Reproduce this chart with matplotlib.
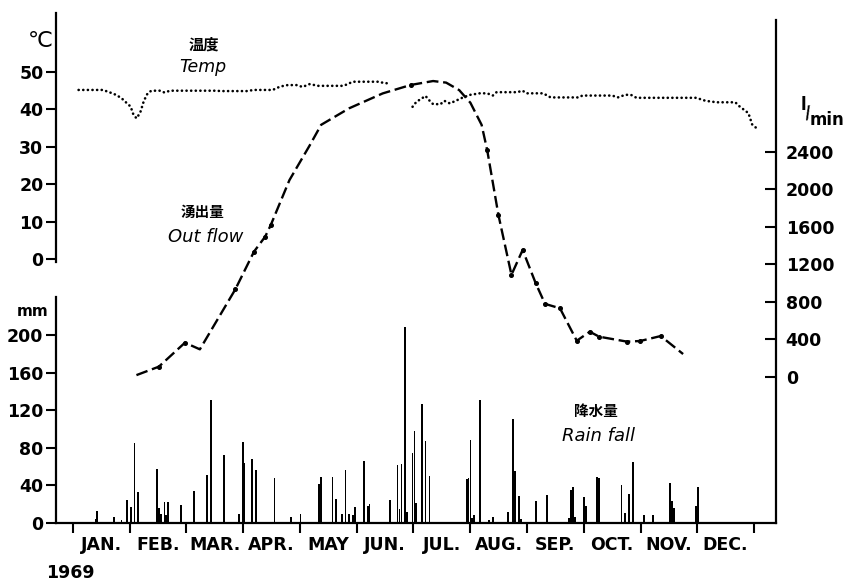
import numpy as np
import matplotlib
matplotlib.use("Agg")
import matplotlib.pyplot as plt
from matplotlib.ticker import FixedLocator, FixedFormatter, NullFormatter

plt.rcParams['font.family'] = ['DejaVu Sans', 'Noto Sans CJK JP']
plt.rcParams['font.weight'] = 'bold'

# ---------------- data ----------------
months = ["JAN.", "FEB.", "MAR.", "APR.", "MAY", "JUN.",
          "JUL.", "AUG.", "SEP.", "OCT.", "NOV.", "DEC."]

# daily rainfall (day of year, mm)
rain_days = [12, 13, 22, 26, 29, 31, 33, 35, 45, 46, 47, 49, 50, 51, 58, 65, 72, 74,
             81, 89, 91, 92, 96, 98, 108, 117, 122, 132, 133, 139, 141, 144, 146, 148,
             150, 151, 156, 158, 159, 170, 174, 175, 176, 178, 179, 182, 183, 184, 187,
             189, 191, 211, 212, 213, 214, 215, 218, 223, 225, 233, 236, 237, 239, 240,
             248, 254, 266, 267, 268, 269, 274, 275, 281, 282, 294, 296, 298, 300, 306,
             311, 320, 321, 322, 334, 335]
rain_mm = [4, 13, 6, 3, 25, 17, 85, 33, 57, 16, 10, 22, 9, 22, 19, 34, 51, 131,
           72, 10, 86, 64, 68, 56, 48, 6, 10, 42, 49, 49, 26, 10, 56, 10,
           9, 17, 66, 18, 20, 25, 62, 15, 63, 208, 12, 74, 98, 21, 127,
           87, 50, 47, 48, 88, 5, 9, 131, 3, 6, 12, 111, 55, 29, 4,
           23, 30, 5, 35, 38, 6, 28, 18, 49, 48, 40, 11, 31, 65, 8,
           9, 43, 23, 16, 18, 38]

# water temperature (deg C), two observed stretches
temp1_days = [3, 16, 20, 23, 26, 29, 31, 32, 34, 36, 38, 40, 42, 47, 49, 52, 59, 64,
              77, 79, 93, 97, 107, 111, 115, 120, 123, 127, 131, 145, 150, 164, 167, 170]
temp1_vals = [45.2, 45.2, 44.5, 43.9, 43.0, 41.6, 40.7, 39.0, 37.6, 39.1, 42.3, 44.3,
              45.0, 45.0, 44.5, 45.0, 45.0, 45.0, 45.0, 44.9, 44.9, 45.2, 45.2, 46.1,
              46.5, 46.5, 46.0, 46.8, 46.3, 46.3, 47.4, 47.4, 47.0, 47.0]
temp2_days = [182, 184, 189, 190, 193, 197, 199, 202, 206, 209, 213, 218, 222, 225,
              227, 238, 241, 243, 252, 256, 271, 273, 289, 292, 296, 299, 302, 334,
              339, 345, 355, 357, 362, 364, 367]
temp2_vals = [40.7, 42.0, 43.6, 42.9, 41.4, 41.4, 42.3, 41.6, 42.5, 43.2, 43.9, 44.3,
              44.3, 43.7, 44.6, 44.6, 45.0, 44.3, 44.3, 43.2, 43.2, 43.7, 43.7, 43.2,
              43.9, 43.9, 43.1, 43.1, 42.3, 41.9, 41.9, 40.9, 39.0, 36.0, 34.7]

# outflow (l/min)
flow_days = [34, 46, 60, 68, 87, 97, 103, 106, 116, 127, 133, 148, 166, 181, 193, 200,
             207, 213, 219, 222, 228, 235, 241, 248, 253, 261, 270, 277, 282, 297,
             304, 315, 327]
flow_vals = [20, 110, 366, 295, 935, 1337, 1497, 1621, 2100, 2475, 2690, 2866, 3025,
             3115, 3157, 3140, 3060, 2925, 2690, 2420, 1730, 1090, 1355, 1000, 780,
             733, 387, 483, 430, 377, 384, 437, 245]
flow_marked = [1, 2, 4, 5, 6, 7, 13, 19, 20, 21, 22, 23, 24, 25, 26, 27, 28, 29, 30, 31]

rain_ticks = [0, 40, 80, 120, 160, 200]
temp_ticks = [0, 10, 20, 30, 40, 50]
flow_ticks = [0, 400, 800, 1200, 1600, 2000, 2400]

# ---------------- figure ----------------
W, H = 845, 581
fig = plt.figure(figsize=(W / 100, H / 100), dpi=100)
fig.patch.set_facecolor('white')


def fx(px):
    return px / W


def fy(py):
    return 1 - py / H


L, R, B, T = 56, 776, 523, 13
ax = fig.add_axes([fx(L), fy(B), (R - L) / W, (B - T) / H])

x0px, x365px = 73, 754
dpp = 365 / (x365px - x0px)
ax.set_xlim((L - x0px) * dpp, (R - x0px) * dpp)

# rainfall axis (bottom, left)
ax.set_ylim(0, (B - T) / 0.94)
ax.bar(rain_days, rain_mm, width=0.9, color='black', linewidth=0, zorder=3)
for s in ['top', 'right']:
    ax.spines[s].set_visible(False)
ax.spines['left'].set_bounds(0, (B - 297) / 0.94)
ax.spines['left'].set_linewidth(1.6)
ax.spines['bottom'].set_linewidth(1.6)
ax.set_yticks(rain_ticks)
ax.tick_params(axis='y', direction='out', length=7, width=1.5, pad=2, labelsize=12.5)

month_edges = np.arange(13) * 365 / 12
month_mids = (np.arange(12) + 0.5) * 365 / 12
ax.xaxis.set_major_locator(FixedLocator(month_edges))
ax.xaxis.set_major_formatter(NullFormatter())
ax.xaxis.set_minor_locator(FixedLocator(month_mids))
ax.xaxis.set_minor_formatter(FixedFormatter(months))
ax.tick_params(axis='x', which='major', direction='out', length=7, width=1.5)
ax.tick_params(axis='x', which='minor', length=0, pad=9, labelsize=12.5)

# temperature axis (top, left)
tax = ax.twinx()
tax.set_ylim((259 - B) / 3.74, (259 - T) / 3.74)
tax.yaxis.tick_left()
for s in ['top', 'right', 'bottom']:
    tax.spines[s].set_visible(False)
tax.spines['left'].set_bounds(-0.8, (259 - T) / 3.74)
tax.spines['left'].set_linewidth(1.6)
tax.set_yticks(temp_ticks)
tax.tick_params(axis='y', direction='out', length=7, width=1.5, pad=2, labelsize=12.5)
dot_style = dict(color='black', linewidth=1.9, linestyle=(0, (0.05, 1.7)),
                 dash_capstyle='round')
tax.plot(temp1_days, temp1_vals, **dot_style)
tax.plot(temp2_days, temp2_vals, **dot_style)

# outflow axis (right)
fax = ax.twinx()
fax.set_ylim((377 - B) / 0.09375, (377 - T) / 0.09375)
for s in ['top', 'left', 'bottom']:
    fax.spines[s].set_visible(False)
fax.spines['right'].set_bounds((377 - B) / 0.09375, (377 - 20) / 0.09375)
fax.spines['right'].set_linewidth(1.6)
fax.set_yticks(flow_ticks)
fax.tick_params(axis='y', direction='in', length=8, width=1.5, pad=7, labelsize=12.5)
fax.plot(flow_days, flow_vals, color='black', linewidth=1.7,
         linestyle=(0, (5.0, 2.0)), marker='o', markersize=2.6,
         markevery=flow_marked)

# ---------------- annotations ----------------
cjk = ['Noto Sans CJK JP', 'DejaVu Sans']
fig.text(fx(40), fy(41), "℃", fontsize=16, ha='center', va='center',
         family=['DejaVu Sans', 'Noto Sans CJK JP'], fontweight='normal')
fig.text(fx(33), fy(311), "mm", fontsize=11, ha='center', va='center')
fig.text(fx(803), fy(105), "l", fontsize=12, ha='center', va='center')
fig.text(fx(808), fy(113), "/", fontsize=13, ha='center', va='center', rotation=10)
fig.text(fx(827), fy(120), "min", fontsize=12, ha='center', va='center')
fig.text(fx(70), fy(573), "1969", fontsize=12.5, ha='center', va='center')

fig.text(fx(204), fy(45), "温度", fontsize=11, ha='center', va='center',
         family=cjk, fontweight='bold')
fig.text(fx(203), fy(67), "Temp", fontsize=12.5, ha='center', va='center',
         style='italic', fontweight='normal')
fig.text(fx(203), fy(212), "湧出量", fontsize=10.5, ha='center', va='center',
         family=cjk, fontweight='bold')
fig.text(fx(206), fy(237), "Out flow", fontsize=13, ha='center', va='center',
         style='italic', fontweight='normal')
fig.text(fx(596), fy(411), "降水量", fontsize=10.5, ha='center', va='center',
         family=cjk, fontweight='bold')
fig.text(fx(598), fy(436), "Rain fall", fontsize=13, ha='center', va='center',
         style='italic', fontweight='normal')

fig.savefig("out.png", dpi=100, facecolor='white')
